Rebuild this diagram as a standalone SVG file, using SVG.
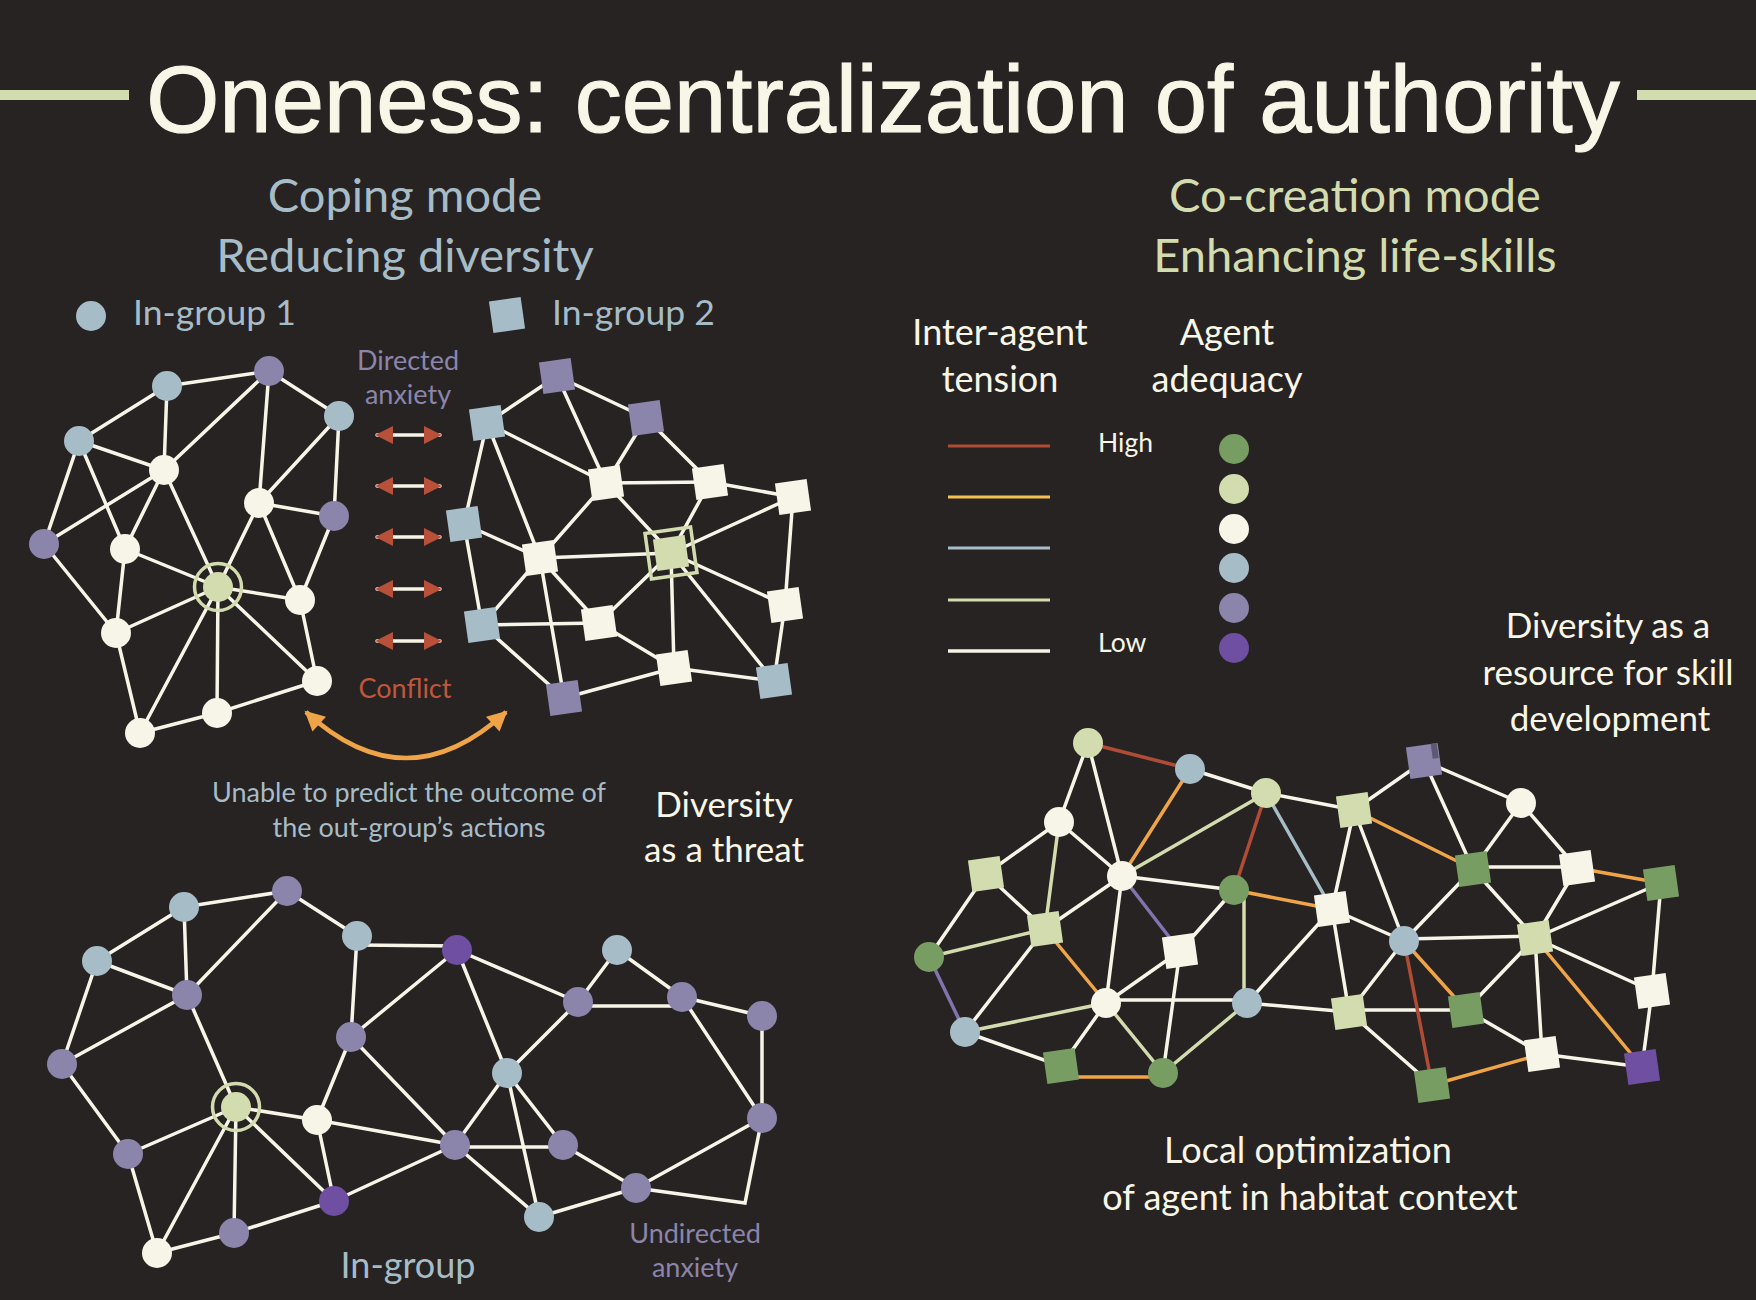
<svg xmlns="http://www.w3.org/2000/svg" xmlns:xlink="http://www.w3.org/1999/xlink" width="1756" height="1300" viewBox="0 0 1756 1300">
<style>
.t{font-family:Lato,"Open Sans","DejaVu Sans",sans-serif}
.ttl{font-family:"Liberation Sans",Arial,sans-serif;font-size:94px;fill:#f8f6e7;stroke:#f8f6e7;stroke-width:1.2;text-anchor:middle}
.c{text-anchor:middle}
.w{fill:#f8f6e7}.g{fill:#a6bcc7}.p{fill:#8b85ab}.r{fill:#c0573c}.lgt{fill:#d3dcae}
.cr{fill:#f7f5e7}.lg{fill:#d3dcae}.bl{fill:#a6bcc7}.pu{fill:#8b85ab}.dp{fill:#6e4fa2}.gr{fill:#789d63}
#edges line,#edges polyline{stroke:#f7f5e7;stroke-width:3.5;fill:none;stroke-linecap:round}
#edges .eo{stroke:#efa448}#edges .er{stroke:#b04c36}#edges .eg{stroke:#d3dcae}#edges .eb{stroke:#a6bcc7}#edges .ep{stroke:#7f74ad}
.ring{fill:none;stroke:#d3dcae;stroke-width:3.5}
.arr{stroke:#b8503a;stroke-width:4;marker-start:url(#ah);marker-end:url(#ah)}
</style>
<defs>
<rect id="sq" x="-16" y="-16" width="32" height="32"/>
<marker id="ah" viewBox="0 0 10 10" refX="9" refY="5" markerWidth="18" markerHeight="18" markerUnits="userSpaceOnUse" orient="auto-start-reverse"><path d="M0,0 L10,5 L0,10 z" fill="#b8503a"/></marker>
<marker id="oh" viewBox="0 0 10 10" refX="9" refY="5" markerWidth="22" markerHeight="20" markerUnits="userSpaceOnUse" orient="auto-start-reverse"><path d="M0,0 L10,5 L0,10 z" fill="#efa448"/></marker>
</defs>
<rect width="1756" height="1300" fill="#272322"/>

<!-- Title -->
<g id="title">
<rect x="0" y="90" width="129" height="10" fill="#d3dcae"/>
<rect x="1637" y="90" width="119" height="10" fill="#d3dcae"/>
<text class="ttl" x="883" y="132">Oneness: centralization of authority</text>
</g>

<!-- Headings -->
<g class="t c" font-size="47">
<text class="g" x="405" y="212">Coping mode</text>
<text class="g" x="405" y="272">Reducing diversity</text>
<text class="lgt" x="1355" y="212">Co-creation mode</text>
<text class="lgt" x="1355" y="272">Enhancing life-skills</text>
</g>

<!-- Legend left -->
<g id="legend-left" class="t" font-size="35.5">
<circle class="bl" cx="91" cy="316" r="15"/>
<text class="g" x="133" y="325">In-group 1</text>
<use href="#sq" class="bl" transform="translate(507 315) rotate(-8)"/>
<text class="g" x="552" y="325">In-group 2</text>
</g>

<!-- Legend right -->
<g id="legend-right" class="t">
<text class="w c" font-size="36" x="1000" y="345">Inter-agent</text>
<text class="w c" font-size="36" x="1000" y="392">tension</text>
<text class="w c" font-size="36" x="1227" y="345">Agent</text>
<text class="w c" font-size="36" x="1227" y="392">adequacy</text>
<text class="w" font-size="26.5" x="1098" y="452">High</text>
<text class="w" font-size="26.5" x="1098" y="652">Low</text>
<line x1="948" y1="446" x2="1050" y2="446" stroke="#b04c36" stroke-width="3"/>
<line x1="948" y1="497" x2="1050" y2="497" stroke="#f5c150" stroke-width="3"/>
<line x1="948" y1="548" x2="1050" y2="548" stroke="#a6bcc7" stroke-width="3"/>
<line x1="948" y1="600" x2="1050" y2="600" stroke="#d3dcae" stroke-width="3"/>
<line x1="948" y1="651" x2="1050" y2="651" stroke="#f7f5e7" stroke-width="3.5"/>
<circle class="gr" cx="1234" cy="449" r="15"/>
<circle class="lg" cx="1234" cy="489" r="15"/>
<circle class="cr" cx="1234" cy="529" r="15"/>
<circle class="bl" cx="1234" cy="568" r="15"/>
<circle class="pu" cx="1234" cy="608" r="15"/>
<circle class="dp" cx="1234" cy="648" r="15"/>
</g>

<!-- Labels -->
<g id="labels" class="t c">
<text class="p" font-size="27" x="408" y="370">Directed</text>
<text class="p" font-size="27" x="408" y="404">anxiety</text>
<text class="r" font-size="27" x="405" y="698">Conflict</text>
<text class="g" font-size="27" x="409" y="802">Unable to predict the outcome of</text>
<text class="g" font-size="27" x="409" y="837">the out-group’s actions</text>
<text class="w" font-size="35" x="724" y="817">Diversity</text>
<text class="w" font-size="35" x="724" y="862">as a threat</text>
<text class="w" font-size="35" x="1608" y="638">Diversity as a</text>
<text class="w" font-size="35" x="1608" y="685">resource for skill</text>
<text class="w" font-size="35" x="1610" y="731">development</text>
<text class="w" font-size="36" x="1308" y="1163">Local optimization</text>
<text class="w" font-size="36" x="1310" y="1210">of agent in habitat context</text>
<text class="g" font-size="36" x="408" y="1278">In-group</text>
<text class="p" font-size="27" x="695" y="1243">Undirected</text>
<text class="p" font-size="27" x="695" y="1277">anxiety</text>
</g>

<!-- Connectors -->
<g id="edges">
<!-- conflict arrows -->
<line class="arr" x1="377" y1="435" x2="440" y2="435"/>
<line class="arr" x1="377" y1="486" x2="440" y2="486"/>
<line class="arr" x1="377" y1="537" x2="440" y2="537"/>
<line class="arr" x1="377" y1="589" x2="440" y2="589"/>
<line class="arr" x1="377" y1="641" x2="440" y2="641"/>
<path d="M306,712 Q406,804 506,712" fill="none" stroke="#efa448" stroke-width="4.5" marker-start="url(#oh)" marker-end="url(#oh)"/>
<!-- top-left -->
<line x1="167" y1="386" x2="269" y2="371"/>
<line x1="79" y1="441" x2="167" y2="386"/>
<line x1="269" y1="371" x2="339" y2="416"/>
<line x1="167" y1="386" x2="164" y2="470"/>
<line x1="269" y1="371" x2="164" y2="470"/>
<line x1="269" y1="371" x2="259" y2="503"/>
<line x1="339" y1="416" x2="259" y2="503"/>
<line x1="339" y1="416" x2="334" y2="516"/>
<line x1="79" y1="441" x2="164" y2="470"/>
<line x1="79" y1="441" x2="44" y2="544"/>
<line x1="79" y1="441" x2="125" y2="549"/>
<line x1="44" y1="544" x2="164" y2="470"/>
<line x1="164" y1="470" x2="125" y2="549"/>
<line x1="164" y1="470" x2="218" y2="587"/>
<line x1="259" y1="503" x2="334" y2="516"/>
<line x1="259" y1="503" x2="218" y2="587"/>
<line x1="259" y1="503" x2="300" y2="600"/>
<line x1="334" y1="516" x2="300" y2="600"/>
<line x1="125" y1="549" x2="218" y2="587"/>
<line x1="125" y1="549" x2="116" y2="633"/>
<line x1="44" y1="544" x2="116" y2="633"/>
<line x1="218" y1="587" x2="116" y2="633"/>
<line x1="218" y1="587" x2="300" y2="600"/>
<line x1="218" y1="587" x2="217" y2="713"/>
<line x1="218" y1="587" x2="140" y2="733"/>
<line x1="218" y1="587" x2="317" y2="681"/>
<line x1="300" y1="600" x2="317" y2="681"/>
<line x1="116" y1="633" x2="140" y2="733"/>
<line x1="140" y1="733" x2="217" y2="713"/>
<line x1="217" y1="713" x2="317" y2="681"/>
<!-- top-right -->
<line x1="487" y1="423" x2="557" y2="376"/>
<line x1="557" y1="376" x2="646" y2="418"/>
<line x1="557" y1="376" x2="606" y2="483"/>
<line x1="487" y1="423" x2="606" y2="483"/>
<line x1="646" y1="418" x2="606" y2="483"/>
<line x1="646" y1="418" x2="710" y2="482"/>
<line x1="606" y1="483" x2="710" y2="482"/>
<line x1="710" y1="482" x2="793" y2="497"/>
<line x1="606" y1="483" x2="671" y2="553"/>
<line x1="710" y1="482" x2="671" y2="553"/>
<line x1="793" y1="497" x2="671" y2="553"/>
<line x1="793" y1="497" x2="785" y2="605"/>
<line x1="487" y1="423" x2="464" y2="524"/>
<line x1="487" y1="423" x2="540" y2="558"/>
<line x1="464" y1="524" x2="540" y2="558"/>
<line x1="606" y1="483" x2="540" y2="558"/>
<line x1="540" y1="558" x2="671" y2="553"/>
<line x1="540" y1="558" x2="482" y2="625"/>
<line x1="540" y1="558" x2="599" y2="623"/>
<line x1="540" y1="558" x2="564" y2="698"/>
<line x1="464" y1="524" x2="482" y2="625"/>
<line x1="482" y1="625" x2="599" y2="623"/>
<line x1="482" y1="625" x2="564" y2="698"/>
<line x1="671" y1="553" x2="599" y2="623"/>
<line x1="671" y1="553" x2="674" y2="668"/>
<line x1="671" y1="553" x2="785" y2="605"/>
<line x1="671" y1="553" x2="774" y2="681"/>
<line x1="599" y1="623" x2="674" y2="668"/>
<line x1="674" y1="668" x2="774" y2="681"/>
<line x1="785" y1="605" x2="774" y2="681"/>
<line x1="564" y1="698" x2="674" y2="668"/>
<!-- bottom-left -->
<line x1="184" y1="907" x2="287" y2="891"/>
<line x1="97" y1="961" x2="184" y2="907"/>
<line x1="287" y1="891" x2="357" y2="936"/>
<line x1="184" y1="907" x2="187" y2="995"/>
<line x1="287" y1="891" x2="187" y2="995"/>
<line x1="97" y1="961" x2="187" y2="995"/>
<line x1="97" y1="961" x2="62" y2="1064"/>
<line x1="62" y1="1064" x2="187" y2="995"/>
<line x1="187" y1="995" x2="236" y2="1107"/>
<line x1="62" y1="1064" x2="128" y2="1154"/>
<line x1="128" y1="1154" x2="236" y2="1107"/>
<line x1="128" y1="1154" x2="157" y2="1253"/>
<line x1="236" y1="1107" x2="157" y2="1253"/>
<line x1="236" y1="1107" x2="234" y2="1233"/>
<line x1="236" y1="1107" x2="334" y2="1201"/>
<line x1="236" y1="1107" x2="317" y2="1120"/>
<line x1="357" y1="936" x2="351" y2="1037"/>
<line x1="357" y1="945" x2="457" y2="946"/>
<line x1="351" y1="1037" x2="457" y2="950"/>
<line x1="351" y1="1037" x2="317" y2="1120"/>
<line x1="351" y1="1037" x2="455" y2="1145"/>
<line x1="317" y1="1120" x2="455" y2="1145"/>
<line x1="317" y1="1120" x2="334" y2="1201"/>
<line x1="334" y1="1201" x2="455" y2="1145"/>
<line x1="234" y1="1233" x2="157" y2="1253"/>
<line x1="234" y1="1233" x2="334" y2="1201"/>
<line x1="457" y1="950" x2="578" y2="1002"/>
<line x1="457" y1="950" x2="507" y2="1073"/>
<line x1="578" y1="1002" x2="617" y2="950"/>
<line x1="617" y1="950" x2="682" y2="997"/>
<line x1="578" y1="1006" x2="682" y2="1006"/>
<line x1="682" y1="997" x2="762" y2="1016"/>
<line x1="682" y1="997" x2="762" y2="1118"/>
<line x1="762" y1="1016" x2="762" y2="1118"/>
<line x1="578" y1="1002" x2="507" y2="1073"/>
<line x1="507" y1="1073" x2="455" y2="1145"/>
<line x1="507" y1="1073" x2="563" y2="1145"/>
<line x1="507" y1="1073" x2="539" y2="1217"/>
<line x1="455" y1="1147" x2="563" y2="1147"/>
<line x1="455" y1="1145" x2="539" y2="1217"/>
<line x1="563" y1="1145" x2="636" y2="1188"/>
<line x1="636" y1="1188" x2="762" y2="1118"/>
<polyline points="636,1188 745,1203 762,1118"/>
<line x1="539" y1="1217" x2="636" y2="1188"/>
<!-- bottom-right -->
<line class="er" x1="1088" y1="743" x2="1190" y2="769"/>
<line x1="1088" y1="743" x2="1059" y2="822"/>
<line x1="1088" y1="743" x2="1122" y2="876"/>
<line class="eo" x1="1190" y1="769" x2="1122" y2="876"/>
<line x1="1190" y1="769" x2="1266" y2="793"/>
<line class="eg" x1="1266" y1="793" x2="1122" y2="876"/>
<line class="er" x1="1266" y1="793" x2="1234" y2="890"/>
<line class="eb" x1="1266" y1="793" x2="1332" y2="909"/>
<line x1="1266" y1="793" x2="1354" y2="810"/>
<line class="eo" x1="1354" y1="810" x2="1473" y2="869"/>
<line x1="1059" y1="822" x2="986" y2="874"/>
<line x1="1059" y1="822" x2="1122" y2="876"/>
<line class="eg" x1="1059" y1="822" x2="1045" y2="929"/>
<line x1="986" y1="874" x2="1045" y2="929"/>
<line x1="986" y1="874" x2="929" y2="957"/>
<line x1="1122" y1="876" x2="1045" y2="929"/>
<line x1="1122" y1="876" x2="1234" y2="890"/>
<line class="ep" x1="1122" y1="876" x2="1180" y2="951"/>
<line x1="1122" y1="876" x2="1106" y2="1003"/>
<line class="eo" x1="1234" y1="890" x2="1332" y2="909"/>
<line x1="1234" y1="890" x2="1180" y2="951"/>
<line class="eg" x1="1244" y1="890" x2="1244" y2="1003"/>
<line x1="1332" y1="909" x2="1354" y2="810"/>
<line x1="1354" y1="810" x2="1404" y2="941"/>
<line x1="1332" y1="909" x2="1404" y2="941"/>
<line x1="1332" y1="909" x2="1247" y2="1003"/>
<line x1="1332" y1="909" x2="1349" y2="1012"/>
<line class="eg" x1="1045" y1="929" x2="929" y2="957"/>
<line class="eo" x1="1045" y1="929" x2="1106" y2="1003"/>
<line x1="1045" y1="929" x2="965" y2="1032"/>
<line class="ep" x1="929" y1="957" x2="965" y2="1032"/>
<line x1="1180" y1="951" x2="1106" y2="1003"/>
<line x1="1180" y1="951" x2="1163" y2="1073"/>
<line x1="1106" y1="1000" x2="1247" y2="1000"/>
<line class="eg" x1="1106" y1="1003" x2="965" y2="1032"/>
<line x1="1106" y1="1003" x2="1061" y2="1066"/>
<line class="eg" x1="1106" y1="1003" x2="1163" y2="1073"/>
<line class="eg" x1="1247" y1="1003" x2="1163" y2="1073"/>
<line x1="1247" y1="1003" x2="1349" y2="1012"/>
<line x1="1349" y1="1012" x2="1404" y2="941"/>
<line x1="1349" y1="1010" x2="1466" y2="1010"/>
<line x1="1349" y1="1012" x2="1432" y2="1085"/>
<line x1="965" y1="1032" x2="1061" y2="1066"/>
<line class="eo" x1="1061" y1="1077" x2="1163" y2="1077"/>
<line x1="1354" y1="810" x2="1424" y2="761"/>
<line x1="1424" y1="761" x2="1521" y2="803"/>
<line x1="1424" y1="761" x2="1473" y2="869"/>
<line x1="1521" y1="803" x2="1473" y2="869"/>
<line x1="1521" y1="803" x2="1577" y2="868"/>
<line x1="1473" y1="867" x2="1577" y2="867"/>
<line class="eo" x1="1577" y1="868" x2="1661" y2="883"/>
<line x1="1404" y1="941" x2="1473" y2="869"/>
<line x1="1473" y1="869" x2="1535" y2="938"/>
<line x1="1577" y1="868" x2="1535" y2="938"/>
<line x1="1661" y1="883" x2="1535" y2="938"/>
<line x1="1661" y1="883" x2="1652" y2="991"/>
<line x1="1404" y1="939" x2="1535" y2="936"/>
<line class="eo" x1="1404" y1="941" x2="1466" y2="1010"/>
<line class="er" x1="1404" y1="941" x2="1432" y2="1085"/>
<line x1="1535" y1="938" x2="1466" y2="1010"/>
<line x1="1535" y1="938" x2="1542" y2="1054"/>
<line class="eo" x1="1535" y1="938" x2="1642" y2="1067"/>
<line x1="1535" y1="938" x2="1652" y2="991"/>
<line x1="1652" y1="991" x2="1642" y2="1067"/>
<line x1="1466" y1="1010" x2="1542" y2="1054"/>
<line x1="1542" y1="1054" x2="1642" y2="1067"/>
<line class="eo" x1="1542" y1="1054" x2="1432" y2="1085"/>
</g>

<!-- Top-left nodes -->
<g id="tl-A" class="pu"><circle cx="269" cy="371" r="15"/></g>
<g id="tl-B" class="bl"><circle cx="167" cy="386" r="15"/></g>
<g id="tl-C" class="bl"><circle cx="79" cy="441" r="15"/></g>
<g id="tl-D" class="bl"><circle cx="339" cy="416" r="15"/></g>
<g id="tl-E" class="cr"><circle cx="164" cy="470" r="15"/></g>
<g id="tl-F" class="cr"><circle cx="259" cy="503" r="15"/></g>
<g id="tl-G" class="pu"><circle cx="334" cy="516" r="15"/></g>
<g id="tl-H" class="pu"><circle cx="44" cy="544" r="15"/></g>
<g id="tl-I" class="cr"><circle cx="125" cy="549" r="15"/></g>
<g id="tl-J" class="lg"><circle cx="218" cy="587" r="15"/><circle class="ring" cx="218" cy="587" r="23.5"/></g>
<g id="tl-K" class="cr"><circle cx="300" cy="600" r="15"/></g>
<g id="tl-L" class="cr"><circle cx="116" cy="633" r="15"/></g>
<g id="tl-M" class="cr"><circle cx="317" cy="681" r="15"/></g>
<g id="tl-N" class="cr"><circle cx="217" cy="713" r="15"/></g>
<g id="tl-O" class="cr"><circle cx="140" cy="733" r="15"/></g>

<!-- Top-right nodes -->
<g id="tr-P" class="pu"><use href="#sq" transform="translate(557 376) rotate(-8)"/></g>
<g id="tr-Q" class="pu"><use href="#sq" transform="translate(646 418) rotate(-8)"/></g>
<g id="tr-R" class="bl"><use href="#sq" transform="translate(487 423) rotate(-8)"/></g>
<g id="tr-S" class="cr"><use href="#sq" transform="translate(606 483) rotate(-8)"/></g>
<g id="tr-T" class="cr"><use href="#sq" transform="translate(710 482) rotate(-8)"/></g>
<g id="tr-U" class="cr"><use href="#sq" transform="translate(793 497) rotate(-8)"/></g>
<g id="tr-V" class="bl"><use href="#sq" transform="translate(464 524) rotate(-8)"/></g>
<g id="tr-W" class="cr"><use href="#sq" transform="translate(540 558) rotate(-8)"/></g>
<g id="tr-X" class="lg" transform="translate(671 553) rotate(-8)"><use href="#sq"/><rect class="ring" x="-23" y="-23" width="46" height="46"/></g>
<g id="tr-Y" class="cr"><use href="#sq" transform="translate(785 605) rotate(-8)"/></g>
<g id="tr-Z" class="bl"><use href="#sq" transform="translate(482 625) rotate(-8)"/></g>
<g id="tr-AA" class="cr"><use href="#sq" transform="translate(599 623) rotate(-8)"/></g>
<g id="tr-BB" class="cr"><use href="#sq" transform="translate(674 668) rotate(-8)"/></g>
<g id="tr-CC" class="bl"><use href="#sq" transform="translate(774 681) rotate(-8)"/></g>
<g id="tr-DD" class="pu"><use href="#sq" transform="translate(564 698) rotate(-8)"/></g>

<!-- Bottom-left nodes -->
<g id="bl-a" class="pu"><circle cx="287" cy="891" r="15"/></g>
<g id="bl-b" class="bl"><circle cx="184" cy="907" r="15"/></g>
<g id="bl-c" class="bl"><circle cx="357" cy="936" r="15"/></g>
<g id="bl-d" class="bl"><circle cx="97" cy="961" r="15"/></g>
<g id="bl-e" class="dp"><circle cx="457" cy="950" r="15"/></g>
<g id="bl-f" class="pu"><circle cx="187" cy="995" r="15"/></g>
<g id="bl-g" class="pu"><circle cx="351" cy="1037" r="15"/></g>
<g id="bl-h" class="pu"><circle cx="62" cy="1064" r="15"/></g>
<g id="bl-i" class="lg"><circle cx="236" cy="1107" r="15"/><circle class="ring" cx="236" cy="1107" r="23.5"/></g>
<g id="bl-j" class="cr"><circle cx="317" cy="1120" r="15"/></g>
<g id="bl-k" class="pu"><circle cx="455" cy="1145" r="15"/></g>
<g id="bl-l" class="pu"><circle cx="128" cy="1154" r="15"/></g>
<g id="bl-m" class="dp"><circle cx="334" cy="1201" r="15"/></g>
<g id="bl-n" class="pu"><circle cx="234" cy="1233" r="15"/></g>
<g id="bl-o" class="cr"><circle cx="157" cy="1253" r="15"/></g>
<g id="bl-p" class="pu"><circle cx="578" cy="1002" r="15"/></g>
<g id="bl-q" class="bl"><circle cx="617" cy="950" r="15"/></g>
<g id="bl-r" class="pu"><circle cx="682" cy="997" r="15"/></g>
<g id="bl-s" class="pu"><circle cx="762" cy="1016" r="15"/></g>
<g id="bl-t" class="bl"><circle cx="507" cy="1073" r="15"/></g>
<g id="bl-v" class="pu"><circle cx="563" cy="1145" r="15"/></g>
<g id="bl-w" class="pu"><circle cx="762" cy="1118" r="15"/></g>
<g id="bl-x" class="pu"><circle cx="636" cy="1188" r="15"/></g>
<g id="bl-y" class="bl"><circle cx="539" cy="1217" r="15"/></g>

<!-- Bottom-right nodes -->
<g id="br-A1" class="lg"><circle cx="1088" cy="743" r="15"/></g>
<g id="br-A2" class="bl"><circle cx="1190" cy="769" r="15"/></g>
<g id="br-A3" class="lg"><circle cx="1266" cy="793" r="15"/></g>
<g id="br-A4" class="lg"><use href="#sq" transform="translate(1354 810) rotate(-8)"/></g>
<g id="br-A5" class="cr"><circle cx="1059" cy="822" r="15"/></g>
<g id="br-A6" class="lg"><use href="#sq" transform="translate(986 874) rotate(-8)"/></g>
<g id="br-A7" class="cr"><circle cx="1122" cy="876" r="15"/></g>
<g id="br-A8" class="gr"><circle cx="1234" cy="890" r="15"/></g>
<g id="br-A9" class="cr"><use href="#sq" transform="translate(1332 909) rotate(-8)"/></g>
<g id="br-A10" class="lg"><use href="#sq" transform="translate(1045 929) rotate(-8)"/></g>
<g id="br-A11" class="gr"><circle cx="929" cy="957" r="15"/></g>
<g id="br-A12" class="cr"><use href="#sq" transform="translate(1180 951) rotate(-8)"/></g>
<g id="br-A13" class="bl"><circle cx="1404" cy="941" r="15"/></g>
<g id="br-A14" class="cr"><circle cx="1106" cy="1003" r="15"/></g>
<g id="br-A15" class="bl"><circle cx="1247" cy="1003" r="15"/></g>
<g id="br-A16" class="lg"><use href="#sq" transform="translate(1349 1012) rotate(-8)"/></g>
<g id="br-A17" class="bl"><circle cx="965" cy="1032" r="15"/></g>
<g id="br-A18" class="gr"><use href="#sq" transform="translate(1061 1066) rotate(-8)"/></g>
<g id="br-A19" class="gr"><circle cx="1163" cy="1073" r="15"/></g>
<g id="br-B1" class="pu" transform="translate(1424 761) rotate(-8)"><use href="#sq"/><rect x="9" y="-16" width="6" height="15" fill="#5e5874"/></g>
<g id="br-B3" class="cr"><circle cx="1521" cy="803" r="15"/></g>
<g id="br-B4" class="gr"><use href="#sq" transform="translate(1473 869) rotate(-8)"/></g>
<g id="br-B5" class="cr"><use href="#sq" transform="translate(1577 868) rotate(-8)"/></g>
<g id="br-B6" class="gr"><use href="#sq" transform="translate(1661 883) rotate(-8)"/></g>
<g id="br-B9" class="lg"><use href="#sq" transform="translate(1535 938) rotate(-8)"/></g>
<g id="br-B10" class="cr"><use href="#sq" transform="translate(1652 991) rotate(-8)"/></g>
<g id="br-B12" class="gr"><use href="#sq" transform="translate(1466 1010) rotate(-8)"/></g>
<g id="br-B13" class="cr"><use href="#sq" transform="translate(1542 1054) rotate(-8)"/></g>
<g id="br-B14" class="dp"><use href="#sq" transform="translate(1642 1067) rotate(-8)"/></g>
<g id="br-B15" class="gr"><use href="#sq" transform="translate(1432 1085) rotate(-8)"/></g>
</svg>
